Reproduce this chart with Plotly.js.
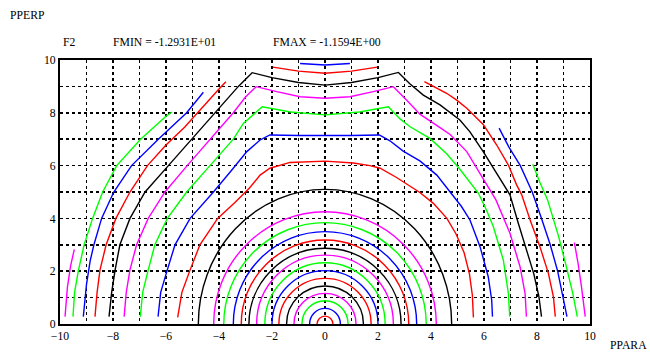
<!DOCTYPE html>
<html><head><meta charset="utf-8">
<script src="https://cdn.plot.ly/plotly-3.0.1.min.js"></script>
<style>html,body{margin:0;padding:0;background:#fff;}#chart{width:650px;height:352px;}</style>
</head><body><div id="chart"></div>
<script>
// contour colours cycle: red, blue, green, magenta, black
const levelColors = ['#ff0000', '#0000ff', '#00ff00', '#ff00ff', '#000000'];

// inner closed contours (levels 1..15): half-width along PPARA, height along PPERP
const innerPar  = [0.30, 0.58, 0.87, 1.17, 1.45, 1.74, 2.00, 2.27, 2.58, 2.87, 3.16, 3.46, 3.82, 4.20, 4.78];
const innerPerp = [0.30, 0.59, 0.88, 1.16, 1.44, 1.73, 2.02, 2.32, 2.61, 2.87, 3.18, 3.50, 3.84, 4.25, 5.10];

// outer contours (levels 16..24)
const c16x = [-5.56,-5.4,-5.09,-4.72,-4.05,-3.4,-2.85,-2.45,-2.08,-1.32,0,1.07,1.7,2.08,2.7,3.58,4.09,4.6,4.95,5.25,5.45,5.56,5.6];
const c16y = [0.25,1.2,2.05,3.0,4.0,4.6,5.15,5.64,5.9,6.12,6.17,6.1,6.0,5.9,5.55,4.98,4.57,4.0,3.4,2.7,1.9,1.1,0.25];

const c17x = [-6.3,-6.2,-5.95,-5.66,-5.09,-4.21,-3.5,-2.95,-2.45,-2.08,-1,0,1,2.05,2.45,2.95,3.58,4.22,4.72,5.15,5.47,5.85,6.16,6.29,6.32];
const c17y = [0.28,1.2,2.05,3.0,4.0,5.0,5.85,6.53,6.97,7.16,7.14,7.13,7.14,7.16,6.94,6.55,6.18,5.64,5.0,4.45,3.94,2.93,1.79,0.91,0.28];

const c18x = [-6.97,-6.88,-6.67,-6.42,-5.95,-5.22,-4.34,-3.46,-3.08,-2.37,-1.3,0,1.3,2.39,2.83,3.21,3.96,4.59,5.09,5.5,5.79,6.1,6.35,6.73,6.92,6.97];
const c18y = [0.28,1.2,2.05,3.0,4.0,5.0,6.0,7.0,7.6,8.23,8.03,7.92,8.03,8.23,7.77,7.47,7.03,6.45,5.86,5.35,4.95,4.3,3.69,2.42,1.16,0.28];

const c19x = [-7.58,-7.5,-7.36,-7.11,-6.67,-6.04,-5.2,-4.34,-3.46,-3.0,-2.6,-1.82,-0.94,0,0.94,1.82,2.58,3.14,3.58,4.34,4.72,5.35,5.72,6.1,6.45,6.98,7.36,7.55,7.6];
const c19y = [0.28,1.2,2.05,3.0,4.0,5.0,6.0,7.0,8.0,8.6,8.99,8.8,8.61,8.55,8.61,8.8,8.99,8.42,7.95,7.44,7.18,6.53,5.9,5.27,4.7,3.44,2.17,1.16,0.28];

const c20x = [-8.15,-8.05,-7.92,-7.74,-7.36,-6.79,-5.91,-5.03,-4.15,-3.27,-2.75,-2.0,-1.0,0,1.0,2.0,2.77,3.2,3.71,4.34,5.09,5.47,5.97,6.35,6.73,6.98,7.3,7.62,7.88,8.07,8.17];
const c20y = [0.28,1.2,2.05,3.0,4.0,5.0,6.0,7.0,8.0,9.0,9.52,9.33,9.15,9.05,9.15,9.33,9.53,9.1,8.67,8.3,7.73,7.28,6.53,5.9,5.27,4.89,3.8,2.8,1.9,1.05,0.28];

const c21LeftX  = [-8.68,-8.6,-8.49,-8.26,-7.89,-7.36,-6.7,-6.0,-5.3,-4.82,-4.0,-3.74];
const c21LeftY  = [0.28,1.2,2.05,3.0,4.0,5.0,6.0,6.78,7.45,8.0,8.9,9.18];
const c21TopX   = [-1.97,-1.0,0,1.0,1.97];
const c21TopY   = [9.73,9.58,9.5,9.58,9.73];
const c21RightX = [3.75,4.09,4.59,4.97,5.35,5.97,6.48,6.92,7.23,7.42,7.74,8.11,8.43,8.62,8.69];
const c21RightY = [9.18,8.99,8.74,8.48,8.17,7.56,6.78,6.02,5.27,4.9,3.94,2.93,1.92,1.03,0.28];

const c22LeftX  = [-9.12,-9.0,-8.86,-8.72,-8.43,-7.97,-7.3,-6.29,-5.22,-4.59];
const c22LeftY  = [0.28,1.5,2.4,3.0,4.0,5.0,6.0,7.0,8.0,8.78];
const c22TopX   = [-0.94,0,0.94];
const c22TopY   = [9.87,9.81,9.87];
const c22RightX = [6.57,6.94,7.37,7.82,8.17,8.5,8.78,9.0,9.13];
const c22RightY = [7.42,6.7,6.0,5.0,4.0,3.0,2.0,1.0,0.28];

const c23LeftX  = [-9.51,-9.45,-9.31,-9.09,-8.77,-8.39,-7.86,-6.96,-6.0,-5.77];
const c23LeftY  = [0.28,1.2,2.0,3.0,4.0,5.0,6.0,7.0,7.87,8.03];
const c23RightX = [7.84,8.11,8.4,8.6,8.82,9.1,9.35,9.52];
const c23RightY = [6.05,5.36,4.7,4.0,3.3,2.2,1.16,0.28];

const c24LeftX  = [-9.81,-9.72,-9.6,-9.46];
const c24LeftY  = [0.28,1.4,2.2,2.83];
const c24RightX = [9.41,9.55,9.68,9.82];
const c24RightY = [3.08,2.3,1.4,0.28];

const xTickVals = [-10,-8,-6,-4,-2,0,2,4,6,8,10];
const yTickVals = [0,2,4,6,8,10];

function joinSegs(...segs) {
  const out = [];
  segs.forEach((s, i) => { if (i) out.push(null); out.push(...s); });
  return out;
}

const outer = [
  {lvl: 16, x: c16x, y: c16y},
  {lvl: 17, x: c17x, y: c17y},
  {lvl: 18, x: c18x, y: c18y},
  {lvl: 19, x: c19x, y: c19y},
  {lvl: 20, x: c20x, y: c20y},
  {lvl: 21, x: joinSegs(c21LeftX, c21TopX, c21RightX), y: joinSegs(c21LeftY, c21TopY, c21RightY)},
  {lvl: 22, x: joinSegs(c22LeftX, c22TopX, c22RightX), y: joinSegs(c22LeftY, c22TopY, c22RightY)},
  {lvl: 23, x: joinSegs(c23LeftX, c23RightX), y: joinSegs(c23LeftY, c23RightY)},
  {lvl: 24, x: joinSegs(c24LeftX, c24RightX), y: joinSegs(c24LeftY, c24RightY)}
];

const LW = 1.4;
const traces = outer.map(c => ({
  type: 'scatter', mode: 'lines', x: c.x, y: c.y, connectgaps: false,
  line: {color: levelColors[(c.lvl - 1) % 5], width: LW},
  hoverinfo: 'skip', showlegend: false
}));

const shapes = innerPar.map((a, i) => ({
  type: 'circle', xref: 'x', yref: 'y',
  x0: -a, x1: a, y0: -innerPerp[i], y1: innerPerp[i],
  line: {color: levelColors[i % 5], width: LW}
}));

const FONT = 'Liberation Serif, Times New Roman, serif';
const gridStyle = {gridcolor: '#000', griddash: 'dot', gridwidth: 1.7};

const layout = {
  width: 650, height: 352,
  margin: {l: 60, r: 60, t: 60, b: 28, pad: 0},
  paper_bgcolor: '#fff', plot_bgcolor: '#fff',
  showlegend: false,
  font: {family: FONT, size: 11.7, color: '#000'},
  xaxis: Object.assign({
    range: [-10, 10], tickvals: xTickVals, showgrid: true, zeroline: false,
    showline: true, linecolor: '#000', linewidth: 2, mirror: true, ticks: '',
    tickfont: {family: FONT, size: 11.7, color: '#000'},
    minor: Object.assign({dtick: 1, tick0: 0, showgrid: true}, gridStyle)
  }, gridStyle),
  yaxis: Object.assign({
    range: [0, 10], tickvals: yTickVals, showgrid: true, zeroline: false,
    showline: true, linecolor: '#000', linewidth: 2, mirror: true, ticks: '',
    tickfont: {family: FONT, size: 11.7, color: '#000'},
    minor: Object.assign({dtick: 1, tick0: 0, showgrid: true}, gridStyle)
  }, gridStyle),
  shapes: shapes,
  annotations: [
    {text: 'PPERP', xref: 'paper', yref: 'paper', x: -0.098, y: 1.17, xanchor: 'left', yanchor: 'middle', showarrow: false},
    {text: 'F2', xref: 'paper', yref: 'paper', x: 0.002, y: 1.068, xanchor: 'left', yanchor: 'middle', showarrow: false},
    {text: 'FMIN = -1.2931E+01', xref: 'paper', yref: 'paper', x: 0.096, y: 1.068, xanchor: 'left', yanchor: 'middle', showarrow: false},
    {text: 'FMAX = -1.1594E+00', xref: 'paper', yref: 'paper', x: 0.398, y: 1.068, xanchor: 'left', yanchor: 'middle', showarrow: false},
    {text: 'PPARA', xref: 'paper', yref: 'paper', x: 1.0, y: -0.083, xanchor: 'right', xshift: 59, yanchor: 'middle', showarrow: false}
  ]
};

Plotly.newPlot('chart', traces, layout, {staticPlot: true, displayModeBar: false});
</script>
</body></html>
